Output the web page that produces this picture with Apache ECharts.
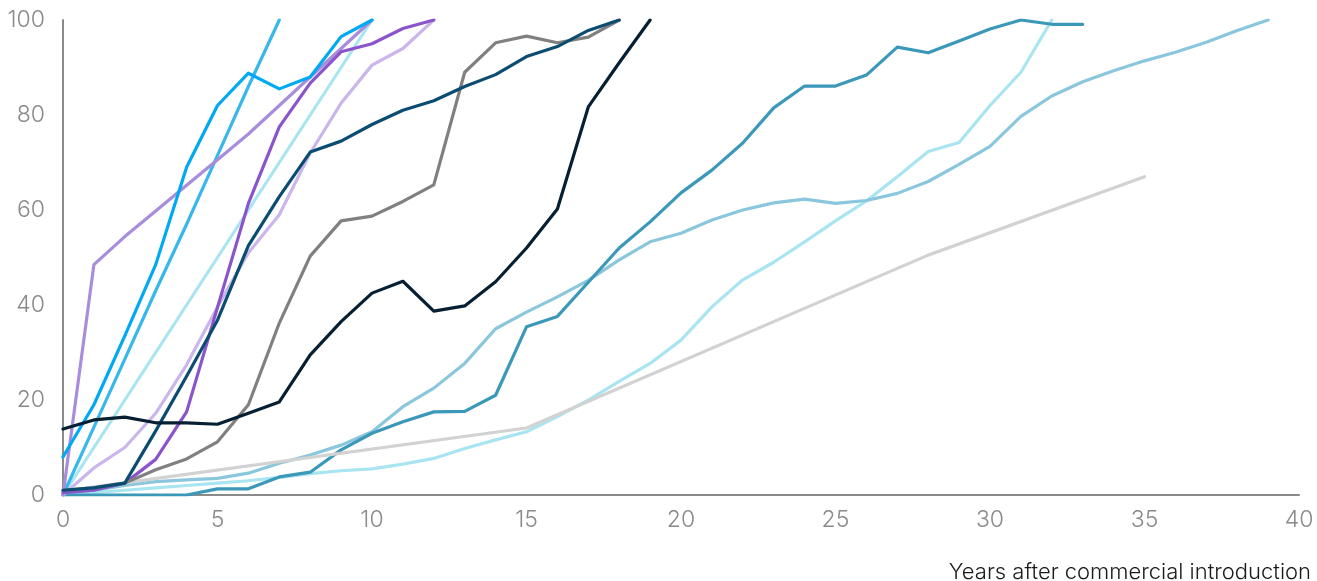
<!DOCTYPE html>
<html>
<head>
<meta charset="utf-8">
<script src="https://cdn.jsdelivr.net/npm/echarts@6/dist/echarts.min.js"></script>
<style>
html,body{margin:0;padding:0;background:#fff;}
#chart{width:1317px;height:581px;}
</style>
</head>
<body>
<div id="chart"></div>
<script>
// Tick labels
var xTicks = [0, 5, 10, 15, 20, 25, 30, 35, 40];
var yTicks = [0, 20, 40, 60, 80, 100];
var xAxisTitle = 'Years after commercial introduction';

// Series values, indexed by year after introduction (0, 1, 2, ...)
var lavenderJump = [0, 48.5, 54.4, 59.8, 65.2, 70.6, 76, 82, 88, 94, 100];
var brightBlue   = [8, 19, 33.5, 48.5, 69, 82, 88.8, 85.5, 88, 96.5, 100];
var skyBlue      = [0, 14.3, 28.6, 43, 57, 71.5, 86, 100];
var cyanTen      = [0, 10, 20, 30, 40, 50, 60, 70, 80, 90, 100];
var darkPurple   = [0.5, 1, 2.5, 7.5, 17.5, 39.5, 61.4, 77.5, 86.7, 93.3, 95, 98.2, 100];
var lightLavender= [0, 5.7, 10, 17.2, 27.4, 39.6, 51, 59, 72, 82.5, 90.5, 94, 100];
var darkTeal     = [1, 1.5, 2.5, 13.5, 25, 36.8, 52.5, 62.8, 72.2, 74.5, 78, 81, 83, 86, 88.5, 92.3, 94.4, 97.8, 100];
var gray         = [1, 1.5, 2.5, 5.3, 7.6, 11.2, 19, 36.2, 50.3, 57.7, 58.7, 61.8, 65.3, 89, 95.2, 96.6, 95.2, 96.4, 100];
var darkNavy     = [13.9, 15.8, 16.4, 15.2, 15.2, 14.9, 17.2, 19.6, 29.5, 36.5, 42.5, 45, 38.7, 39.8, 44.9, 52, 60.2, 81.7, 91, 100];
var teal         = [0, 0, 0, 0, 0, 1.3, 1.3, 3.8, 4.8, 9.5, 13, 15.4, 17.5, 17.6, 21, 35.4, 37.6, 44.8, 52, 57.5, 63.6, 68.4, 74.1, 81.5, 86.1, 86.1, 88.4, 94.3, 93.1, 95.6, 98.1, 100, 99.1, 99.1];
var steelBlue    = [0.5, 1, 2, 2.8, 3.2, 3.5, 4.6, 6.7, 8.4, 10.5, 13.3, 18.6, 22.5, 27.7, 35, 38.5, 41.7, 45.2, 49.5, 53.3, 55.1, 57.9, 60, 61.5, 62.3, 61.4, 62, 63.5, 66, 69.6, 73.4, 79.7, 84, 87, 89.3, 91.4, 93.2, 95.3, 97.8, 100];
var cyanLong     = [0, 0.5, 1, 1.5, 2, 2.5, 3, 3.7, 4.5, 5.1, 5.5, 6.5, 7.7, 9.8, 11.6, 13.3, 16.5, 20, 23.9, 27.7, 32.6, 39.6, 45.3, 49, 53.3, 57.7, 61.9, 67, 72.3, 74.2, 82, 89, 100];
// Sparse series (values known only at these years)
var lightGrayYears  = [0, 15, 28, 35];
var lightGrayValues = [0.8, 14.1, 50.5, 67];

function annual(vals){ return vals.map(function(v,i){ return [i, v]; }); }
function pairs(xs, ys){ return xs.map(function(x,i){ return [x, ys[i]]; }); }

function line(name, data, color, z){
  return {
    name: name, type: 'line', data: data, showSymbol: false, symbol: 'none',
    lineStyle: { color: color, width: 3.2, join: 'round', cap: 'round' },
    z: z, silent: true, animation: false, clip: true
  };
}

var chart = echarts.init(document.getElementById('chart'));
chart.setOption({
  animation: false,
  grid: { left: 63, right: 18, top: 20, bottom: 86, containLabel: false },
  title: {
    text: xAxisTitle, right: 1, top: 556,
    textStyle: { fontFamily: 'Inter', fontWeight: 300, fontSize: 22, color: '#1a1a1a' }
  },
  xAxis: {
    type: 'value', min: 0, max: 40, interval: 5,
    axisLine: { show: true, onZero: false, lineStyle: { color: '#8a8a8a', width: 2 } },
    axisTick: { show: false },
    splitLine: { show: false },
    axisLabel: {
      margin: 14, color: '#8a8a8a', fontFamily: 'Inter', fontWeight: 300, fontSize: 23,
      formatter: function(v){ return xTicks.indexOf(v) >= 0 ? String(v) : ''; }
    }
  },
  yAxis: {
    type: 'value', min: 0, max: 100, interval: 20,
    axisLine: { show: true, lineStyle: { color: '#8a8a8a', width: 2 } },
    axisTick: { show: false },
    splitLine: { show: false },
    axisLabel: {
      margin: 18, color: '#8a8a8a', fontFamily: 'Inter', fontWeight: 300, fontSize: 23,
      formatter: function(v){ return yTicks.indexOf(v) >= 0 ? String(v) : ''; }
    }
  },
  series: [
    line('cyanTen', annual(cyanTen), '#a8e5f0', 2),
    line('cyanLong', annual(cyanLong), '#a8e5f0', 2),
    line('steelBlue', annual(steelBlue), '#8bc7dc', 3),
    line('teal', annual(teal), '#3b98b8', 4),
    line('lightGray', pairs(lightGrayYears, lightGrayValues), '#d2d2d2', 5),
    line('skyBlue', annual(skyBlue), '#38b7ec', 6),
    line('lightLavender', annual(lightLavender), '#cbb6ec', 6),
    line('lavenderJump', annual(lavenderJump), '#a98ddd', 7),
    line('darkPurple', annual(darkPurple), '#8a55cc', 8),
    line('brightBlue', annual(brightBlue), '#00a9f4', 8),
    line('gray', annual(gray), '#808080', 9),
    line('darkTeal', annual(darkTeal), '#0b4d72', 9),
    line('darkNavy', annual(darkNavy), '#061f33', 10)
  ]
});
</script>
</body>
</html>
